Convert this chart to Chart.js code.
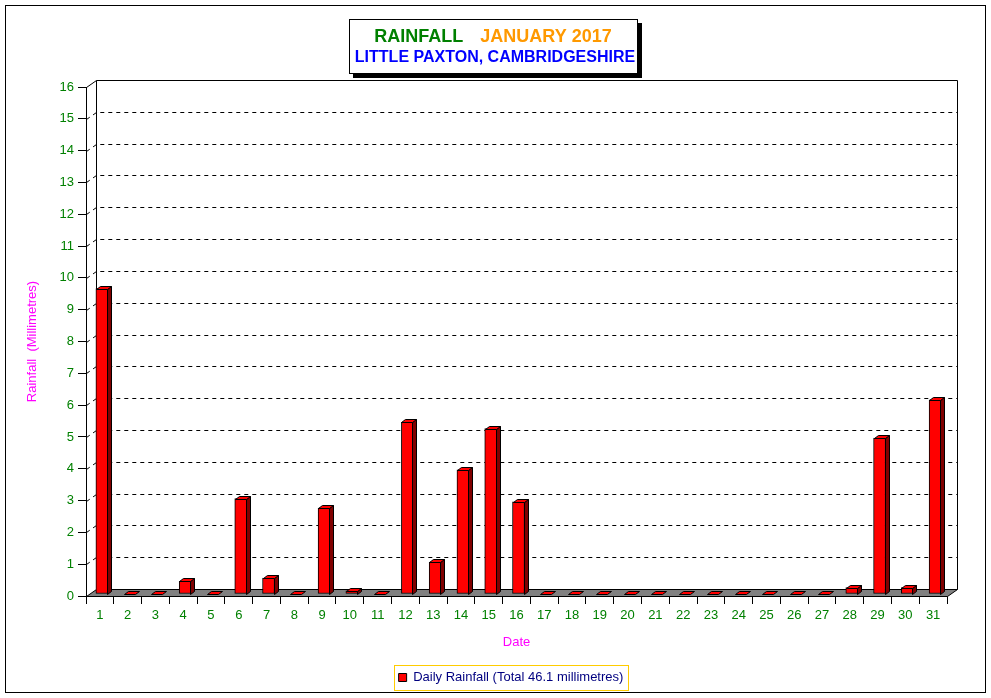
<!DOCTYPE html>
<html>
<head>
<meta charset="utf-8">
<title>Rainfall January 2017 - Little Paxton</title>
<script src="https://cdn.jsdelivr.net/npm/chart.js@4"></script>
<style>
  html, body { margin: 0; padding: 0; background: #fff; }
</style>
</head>
<body>
<canvas id="rain" width="991" height="698"></canvas>
<script>
// data
const days = ['1', '2', '3', '4', '5', '6', '7', '8', '9', '10', '11', '12', '13', '14', '15', '16',
  '17', '18', '19', '20', '21', '22', '23', '24', '25', '26', '27', '28', '29', '30', '31'];
const rainfall = [9.6, 0, 0, 0.4, 0, 3.0, 0.5, 0, 2.7, 0.1, 0, 5.4, 1.0, 3.9, 5.2, 2.9,
  0, 0, 0, 0, 0, 0, 0, 0, 0, 0, 0, 0.2, 4.9, 0.2, 6.1];
const titleWords = ['RAINFALL', 'JANUARY 2017'];
const titlePlace = 'LITTLE PAXTON, CAMBRIDGESHIRE';
const total = rainfall.reduce((a, b) => a + b, 0).toFixed(1);

const FONT = 'Arial, "Liberation Sans", sans-serif';
Chart.defaults.font.family = FONT;
Chart.defaults.font.size = 13;

// depth of the back wall and of each bar
const WALL_DX = 10, WALL_DY = 7;
const BAR_DX = 4, BAR_DY = 3;
const SHIFT = 2;
const LEGEND_SHIFT = 35;

function poly(ctx, pts, fill) {
  ctx.beginPath();
  ctx.moveTo(pts[0][0], pts[0][1]);
  for (let i = 1; i < pts.length; i++) ctx.lineTo(pts[i][0], pts[i][1]);
  ctx.closePath();
  if (fill) { ctx.fillStyle = fill; ctx.fill(); }
  ctx.stroke();
}

const depthPlugin = {
  id: 'depth',
  afterLayout(chart) {
    // legend sits centred under the whole frame, not under the plot
    chart.legend.left += LEGEND_SHIFT;
    chart.legend.right += LEGEND_SHIFT;
  },
  beforeDraw(chart) {
    const ctx = chart.ctx;
    ctx.save();
    ctx.fillStyle = '#fff';
    ctx.fillRect(0, 0, chart.width, chart.height);
    ctx.strokeStyle = '#000';
    ctx.lineWidth = 1;
    ctx.strokeRect(5.5, 5.5, 980, 687);
    ctx.restore();
  },
  beforeDatasetsDraw(chart) {
    const ctx = chart.ctx;
    const {left, right, top, bottom} = chart.chartArea;
    const y = chart.scales.y;
    const L = Math.round(left) + 0.5, R = Math.round(right) + 0.5;
    const T = Math.round(top) + 0.5, B = Math.round(bottom) + 0.5;
    ctx.save();
    ctx.lineWidth = 1;
    ctx.strokeStyle = '#000';
    // floor
    poly(ctx, [[L, B], [R, B], [R + WALL_DX, B - WALL_DY], [L + WALL_DX, B - WALL_DY]], '#808080');
    // back wall frame
    ctx.beginPath();
    ctx.moveTo(L, T);
    ctx.lineTo(L + WALL_DX, T - WALL_DY);
    ctx.lineTo(R + WALL_DX, T - WALL_DY);
    ctx.lineTo(R + WALL_DX, B - WALL_DY);
    ctx.moveTo(L + WALL_DX, T - WALL_DY);
    ctx.lineTo(L + WALL_DX, B - WALL_DY);
    ctx.stroke();
    // dashed grid on the side and back
    ctx.setLineDash([4, 4]);
    for (let v = 1; v < 16; v++) {
      const yy = Math.round(y.getPixelForValue(v)) + 0.5;
      ctx.beginPath();
      ctx.moveTo(L, yy);
      ctx.lineTo(L + WALL_DX, yy - WALL_DY);
      ctx.lineTo(R + WALL_DX, yy - WALL_DY);
      ctx.stroke();
    }
    ctx.restore();
  },
  beforeDatasetDraw(chart) {
    chart.ctx.save();
    chart.ctx.translate(SHIFT, -SHIFT);
  },
  afterDatasetDraw(chart) {
    chart.ctx.restore();
  },
  afterDatasetsDraw(chart) {
    const ctx = chart.ctx;
    const base = chart.scales.y.getPixelForValue(0) - SHIFT;
    const meta = chart.getDatasetMeta(0);
    ctx.save();
    ctx.lineWidth = 1;
    ctx.strokeStyle = '#000';
    meta.data.forEach(bar => {
      const {x, y, width} = bar.getProps(['x', 'y', 'width'], true);
      const l = Math.round(x - width / 2 + SHIFT) + 0.5;
      const r = Math.round(x + width / 2 + SHIFT) - 0.5;
      const t = Math.round(y - SHIFT) + 0.5;
      const b = Math.round(base) + 0.5;
      if (b - t > 1) {
        poly(ctx, [[r, t], [r + BAR_DX, t - BAR_DY], [r + BAR_DX, b - BAR_DY], [r, b]], '#800000');
      }
      poly(ctx, [[l, t], [r, t], [r + BAR_DX, t - BAR_DY], [l + BAR_DX, t - BAR_DY]], '#ff0000');
    });
    ctx.restore();
  },
  afterDraw(chart) {
    const ctx = chart.ctx;
    ctx.save();
    // title box with shadow
    ctx.fillStyle = '#000';
    ctx.fillRect(353, 23, 289, 55);
    ctx.fillStyle = '#fff';
    ctx.fillRect(349, 19, 289, 55);
    ctx.strokeStyle = '#000';
    ctx.lineWidth = 1;
    ctx.strokeRect(349.5, 19.5, 288, 54);
    const cx = 493;
    ctx.textBaseline = 'middle';
    ctx.textAlign = 'left';
    ctx.font = 'bold 18px ' + FONT;
    const w1 = ctx.measureText(titleWords[0]).width;
    const w2 = ctx.measureText(titleWords[1]).width;
    const gap = 17;
    let sx = cx - (w1 + gap + w2) / 2;
    ctx.fillStyle = '#008000';
    ctx.fillText(titleWords[0], sx, 37);
    ctx.fillStyle = '#ff9900';
    ctx.fillText(titleWords[1], sx + w1 + gap, 37);
    ctx.font = 'bold 16px ' + FONT;
    ctx.textAlign = 'center';
    ctx.fillStyle = '#0000ff';
    ctx.fillText(titlePlace, cx + 2, 58);
    // legend frame
    const hb = chart.legend.legendHitBoxes[0];
    if (hb) {
      ctx.strokeStyle = '#ffcc00';
      ctx.strokeRect(Math.round(hb.left) - 4.5, Math.round(hb.top) - 5.5,
        Math.round(hb.width) + 9, Math.round(hb.height) + 12);
    }
    ctx.restore();
  }
};

new Chart(document.getElementById('rain'), {
  type: 'bar',
  data: {
    labels: days,
    datasets: [{
      label: 'Daily Rainfall (Total ' + total + ' millimetres)',
      data: rainfall,
      backgroundColor: '#ff0000',
      borderColor: '#000',
      borderWidth: 1,
      borderSkipped: false,
      barThickness: 12
    }]
  },
  options: {
    responsive: false,
    animation: false,
    layout: {
      padding: {top: 87, right: 44, left: 5, bottom: 4}
    },
    scales: {
      x: {
        afterFit: s => { s.height = 65; },
        grid: {
          drawOnChartArea: false,
          offset: true,
          tickLength: 8,
          color: '#000'
        },
        border: {color: '#000'},
        ticks: {
          color: '#008000',
          padding: 4,
          maxRotation: 0,
          autoSkip: false
        },
        title: {
          display: true,
          text: 'Date',
          color: '#ff00ff',
          padding: {top: 0, bottom: 11}
        }
      },
      y: {
        min: 0,
        max: 16,
        afterFit: s => { s.width = 81; },
        grid: {
          drawOnChartArea: false,
          tickLength: 8,
          color: '#000'
        },
        border: {color: '#000'},
        ticks: {
          stepSize: 1,
          color: '#008000',
          padding: 4
        },
        title: {
          display: true,
          text: 'Rainfall  (Millimetres)',
          color: '#ff00ff',
          padding: {top: 20, bottom: 0}
        }
      }
    },
    plugins: {
      legend: {
        position: 'bottom',
        labels: {
          boxWidth: 8,
          boxHeight: 8,
          padding: 10,
          color: '#000080'
        }
      },
      tooltip: {enabled: false}
    }
  },
  plugins: [depthPlugin]
});
</script>
</body>
</html>
